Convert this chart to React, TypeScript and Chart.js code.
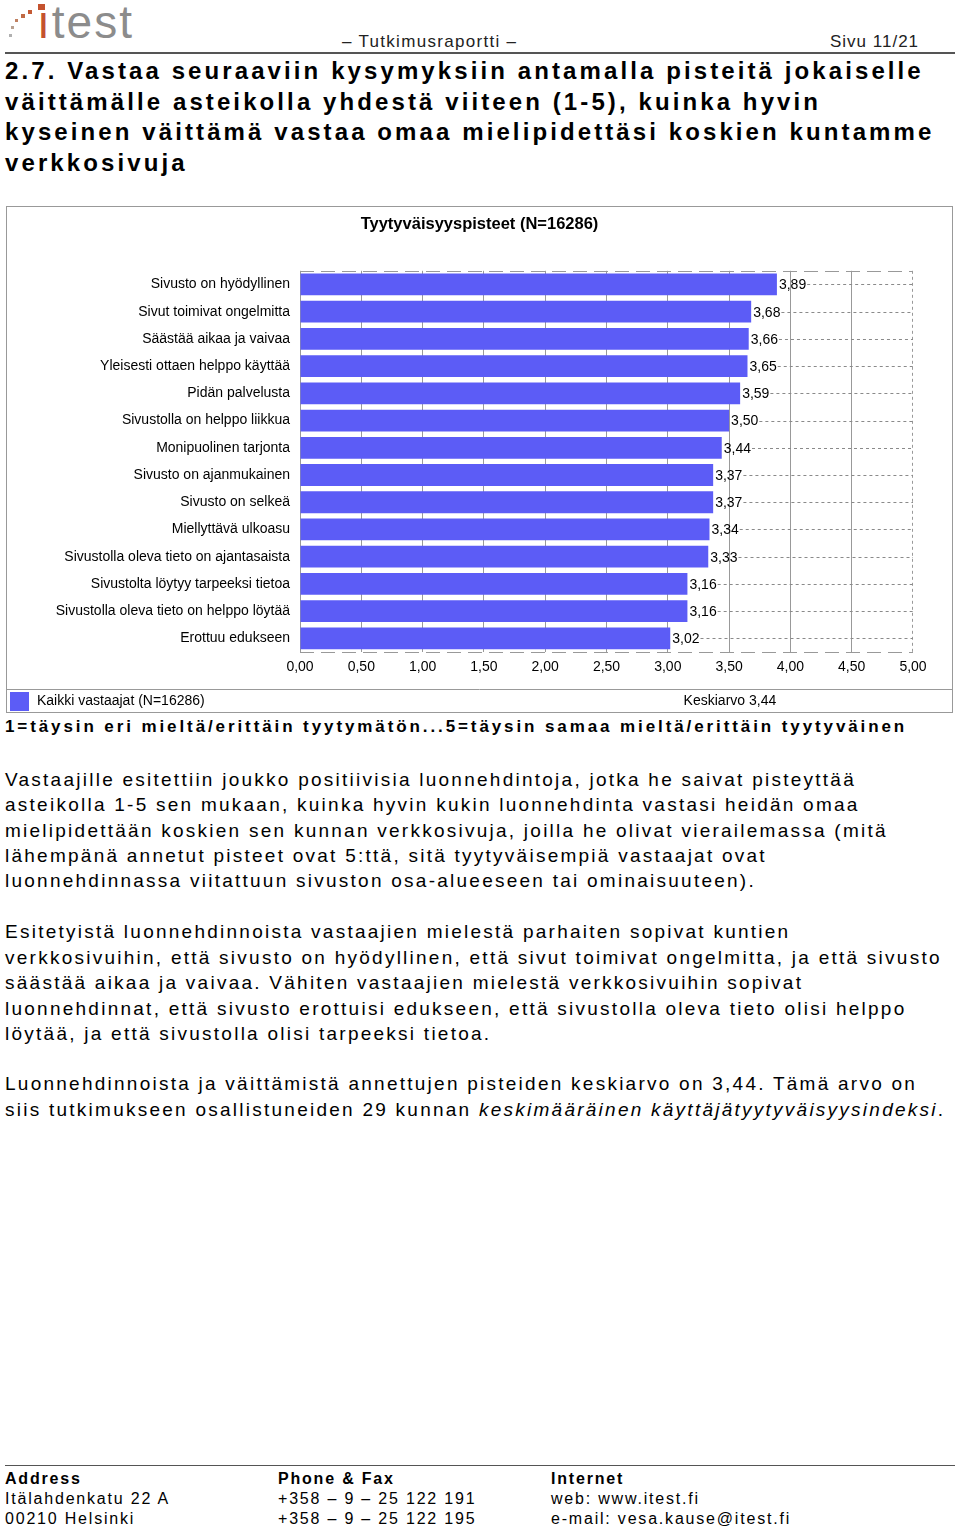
import React, { useEffect, useRef } from "react";
import { Chart, registerables } from "chart.js";

Chart.register(...registerables);

// ---------- data ----------
const CHART_TITLE = "Tyytyväisyyspisteet (N=16286)";
const CATEGORIES = [
  "Sivusto on hyödyllinen",
  "Sivut toimivat ongelmitta",
  "Säästää aikaa ja vaivaa",
  "Yleisesti ottaen helppo käyttää",
  "Pidän palvelusta",
  "Sivustolla on helppo liikkua",
  "Monipuolinen tarjonta",
  "Sivusto on ajanmukainen",
  "Sivusto on selkeä",
  "Miellyttävä ulkoasu",
  "Sivustolla oleva tieto on ajantasaista",
  "Sivustolta löytyy tarpeeksi tietoa",
  "Sivustolla oleva tieto on helppo löytää",
  "Erottuu edukseen",
];
const SCORES = [3.89, 3.68, 3.66, 3.65, 3.59, 3.5, 3.44, 3.37, 3.37, 3.34, 3.33, 3.16, 3.16, 3.02];
const SERIES_LABEL = "Kaikki vastaajat (N=16286)";
const AVERAGE_LABEL = "Keskiarvo 3,44";
const X_MIN = 0;
const X_MAX = 5;
const X_STEP = 0.5;

// ---------- styles ----------
const FONT = "'Liberation Sans', Arial, sans-serif";
const BAR_COLOR = "#5c5cf6";
const GRID_COLOR = "#999999";

const fmt = (v: number) => v.toFixed(2).replace(".", ",");

const decorPlugin = {
  id: "decor",
  beforeDatasetsDraw(chart: any) {
    const { ctx, chartArea: a, scales } = chart;
    ctx.save();
    ctx.strokeStyle = GRID_COLOR;
    ctx.lineWidth = 1;
    ctx.setLineDash([14, 7]);
    [a.top, a.bottom].forEach((yy: number) => {
      const y = Math.round(yy) + 0.5;
      ctx.beginPath();
      ctx.moveTo(a.left, y);
      ctx.lineTo(a.right, y);
      ctx.stroke();
    });
    ctx.setLineDash([3, 3]);
    const xr = Math.round(scales.x.getPixelForValue(X_MAX)) - 0.5;
    ctx.beginPath();
    ctx.moveTo(xr, a.top);
    ctx.lineTo(xr, a.bottom);
    ctx.stroke();
    ctx.restore();
  },
  afterDatasetsDraw(chart: any) {
    const { ctx, chartArea: a } = chart;
    const meta = chart.getDatasetMeta(0);
    const data = chart.data.datasets[0].data;
    ctx.save();
    ctx.font = `14px ${FONT}`;
    ctx.textBaseline = "middle";
    ctx.textAlign = "left";
    meta.data.forEach((bar: any, i: number) => {
      const txt = fmt(Number(data[i]));
      const tx = bar.x + 2;
      const w = ctx.measureText(txt).width;
      const y = Math.round(bar.y) + 0.5;
      ctx.strokeStyle = "#8a8a8a";
      ctx.lineWidth = 1;
      ctx.setLineDash([3, 3]);
      ctx.beginPath();
      ctx.moveTo(tx + w + 1, y);
      ctx.lineTo(a.right, y);
      ctx.stroke();
      ctx.fillStyle = "#000";
      ctx.fillText(txt, tx, bar.y + 1);
    });
    ctx.restore();
  },
  afterDraw(chart: any) {
    const { ctx, width, height } = chart;
    const ds = chart.data.datasets[0];
    const sepY = height - 23;
    ctx.save();
    ctx.strokeStyle = GRID_COLOR;
    ctx.lineWidth = 1;
    ctx.setLineDash([]);
    ctx.beginPath();
    ctx.moveTo(0, sepY + 0.5);
    ctx.lineTo(width, sepY + 0.5);
    ctx.stroke();
    ctx.fillStyle = ds.backgroundColor;
    ctx.fillRect(3, sepY + 3, 19, 19);
    ctx.fillStyle = "#000";
    ctx.font = `14px ${FONT}`;
    ctx.textBaseline = "middle";
    ctx.textAlign = "left";
    ctx.fillText(ds.label, 30, sepY + 12);
    ctx.textAlign = "center";
    ctx.fillText(AVERAGE_LABEL, width * 0.765, sepY + 12);
    ctx.restore();
  },
};

function BarChart() {
  const ref = useRef<HTMLCanvasElement | null>(null);
  useEffect(() => {
    if (!ref.current) return;
    const chart = new Chart(ref.current, {
      type: "bar",
      data: {
        labels: CATEGORIES,
        datasets: [
          {
            label: SERIES_LABEL,
            data: SCORES,
            backgroundColor: BAR_COLOR,
            borderWidth: 0,
            barPercentage: 0.8,
            categoryPercentage: 1,
          },
        ],
      },
      options: {
        indexAxis: "y",
        animation: false,
        responsive: false,
        devicePixelRatio: 1,
        layout: { padding: { left: 0, right: 0, top: 0, bottom: 23 } },
        plugins: {
          legend: { display: false },
          tooltip: { enabled: false },
          title: {
            display: true,
            text: CHART_TITLE,
            color: "#000",
            font: { family: FONT, size: 16.5, weight: "bold" },
            padding: { top: 8, bottom: 36 },
          },
        },
        scales: {
          x: {
            min: X_MIN,
            max: X_MAX,
            ticks: {
              stepSize: X_STEP,
              autoSkip: false,
              maxRotation: 0,
              color: "#000",
              padding: 7,
              font: { family: FONT, size: 14 },
              callback: (v: any) => fmt(Number(v)),
            },
            grid: {
              drawTicks: false,
              color: (c: any) => (c.tick && c.tick.value === X_MAX ? "rgba(0,0,0,0)" : GRID_COLOR),
              lineWidth: 1,
            },
            border: { display: false },
            afterFit: (s: any) => {
              s.height = 37;
            },
          },
          y: {
            ticks: {
              color: "#000",
              padding: 10,
              autoSkip: false,
              font: { family: FONT, size: 14 },
            },
            grid: { display: false, drawTicks: false },
            border: { display: false },
            afterFit: (s: any) => {
              s.width = 293;
            },
          },
          gutter: {
            type: "linear",
            position: "right",
            display: true,
            ticks: { display: false },
            grid: { display: false, drawTicks: false },
            border: { display: false },
            afterFit: (s: any) => {
              s.width = 39;
            },
          },
        },
      } as any,
      plugins: [decorPlugin as any],
    });
    return () => chart.destroy();
  }, []);
  return <canvas ref={ref} width={945} height={505} style={{ display: "block" }} />;
}

const HEADING_LINES = [
  "2.7. Vastaa seuraaviin kysymyksiin antamalla pisteitä jokaiselle",
  "väittämälle asteikolla yhdestä viiteen (1-5), kuinka hyvin",
  "kyseinen väittämä vastaa omaa mielipidettäsi koskien kuntamme",
  "verkkosivuja",
];

const P1 = [
  "Vastaajille esitettiin joukko positiivisia luonnehdintoja, jotka he saivat pisteyttää",
  "asteikolla 1-5 sen mukaan, kuinka hyvin kukin luonnehdinta vastasi heidän omaa",
  "mielipidettään koskien sen kunnan verkkosivuja, joilla he olivat vierailemassa (mitä",
  "lähempänä annetut pisteet ovat 5:ttä, sitä tyytyväisempiä vastaajat ovat",
  "luonnehdinnassa viitattuun sivuston osa-alueeseen tai ominaisuuteen).",
];
const P2 = [
  "Esitetyistä luonnehdinnoista vastaajien mielestä parhaiten sopivat kuntien",
  "verkkosivuihin, että sivusto on hyödyllinen, että sivut toimivat ongelmitta, ja että sivusto",
  "säästää aikaa ja vaivaa. Vähiten vastaajien mielestä verkkosivuihin sopivat",
  "luonnehdinnat, että sivusto erottuisi edukseen, että sivustolla oleva tieto olisi helppo",
  "löytää, ja että sivustolla olisi tarpeeksi tietoa.",
];

const abs = (left: number, top: number, extra: any = {}) => ({
  position: "absolute" as const,
  left,
  top,
  whiteSpace: "nowrap" as const,
  ...extra,
});

export default function App() {
  const bodyStyle = { fontFamily: FONT, fontSize: 19, letterSpacing: 2.25, lineHeight: "25px", color: "#000" };
  const footStyle = { fontFamily: FONT, fontSize: 16, letterSpacing: 1.8, lineHeight: "20px", color: "#000" };
  const bodyLine = (text: any, center: number, key: any) => (
    <div key={key} style={abs(5, center - 13, bodyStyle)}>
      {text}
    </div>
  );
  const dots = [
    { x: 9, y: 34, s: 3, c: "#b0b0b0" },
    { x: 11, y: 26, s: 3, c: "#b8a090" },
    { x: 15, y: 19, s: 3, c: "#c08060" },
    { x: 21, y: 14, s: 4, c: "#c06a45" },
    { x: 28, y: 10, s: 4, c: "#c45a35" },
  ];
  return (
    <div style={{ position: "absolute", left: 0, top: 0, width: 960, height: 1532, overflow: "hidden", background: "#fff" }}>
      {/* logo */}
      {dots.map((d, i) => (
        <div key={i} style={{ position: "absolute", left: d.x, top: d.y, width: d.s, height: d.s, background: d.c }} />
      ))}
      <div style={abs(38, 4, { width: 7, height: 6, background: "#c4522e" })} />
      <div style={abs(37, -3, { fontFamily: FONT, fontSize: 46, letterSpacing: 2, color: "#8c8c8c", lineHeight: "50px" })}>
        <span style={{ color: "#c4522e" }}>ı</span>test
      </div>
      {/* header */}
      <div style={abs(342, 32, { fontFamily: FONT, fontSize: 17, letterSpacing: 1.3, lineHeight: "20px", color: "#222" })}>
        – Tutkimusraportti –
      </div>
      <div style={abs(830, 32, { fontFamily: FONT, fontSize: 17, letterSpacing: 1, lineHeight: "20px", color: "#222" })}>
        Sivu 11/21
      </div>
      <div style={abs(5, 52, { width: 950, height: 2, background: "#555" })} />
      {/* heading */}
      {HEADING_LINES.map((t, i) => (
        <div
          key={i}
          style={abs(5, 56 + i * 30.7, {
            fontFamily: FONT,
            fontSize: 24,
            fontWeight: "bold",
            letterSpacing: 3.1,
            lineHeight: "30px",
            color: "#000",
          })}
        >
          {t}
        </div>
      ))}
      {/* chart box */}
      <div style={{ position: "absolute", left: 6, top: 206, width: 945, height: 505, border: "1px solid #999" }}>
        <BarChart />
      </div>
      {/* scale explanation */}
      <div
        style={abs(5, 717, {
          fontFamily: FONT,
          fontSize: 17,
          fontWeight: "bold",
          letterSpacing: 2.9,
          lineHeight: "20px",
          color: "#000",
        })}
      >
        1=täysin eri mieltä/erittäin tyytymätön...5=täysin samaa mieltä/erittäin tyytyväinen
      </div>
      {/* paragraphs */}
      {P1.map((t, i) => bodyLine(t, 780 + i * 25.3, "a" + i))}
      {P2.map((t, i) => bodyLine(t, 932 + i * 25.5, "b" + i))}
      {bodyLine("Luonnehdinnoista ja väittämistä  annettujen pisteiden keskiarvo on 3,44. Tämä arvo on", 1084, "c0")}
      {bodyLine(
        <>
          siis tutkimukseen osallistuneiden 29 kunnan <i>keskimääräinen käyttäjätyytyväisyysindeksi</i>.
        </>,
        1110,
        "c1"
      )}
      {/* footer */}
      <div style={abs(5, 1465, { width: 950, height: 1, background: "#555" })} />
      <div style={abs(5, 1469, { ...footStyle, fontWeight: "bold" })}>Address</div>
      <div style={abs(5, 1489, footStyle)}>Itälahdenkatu 22 A</div>
      <div style={abs(5, 1509, footStyle)}>00210 Helsinki</div>
      <div style={abs(278, 1469, { ...footStyle, fontWeight: "bold" })}>Phone &amp; Fax</div>
      <div style={abs(278, 1489, footStyle)}>+358 – 9 – 25 122 191</div>
      <div style={abs(278, 1509, footStyle)}>+358 – 9 – 25 122 195</div>
      <div style={abs(551, 1469, { ...footStyle, fontWeight: "bold" })}>Internet</div>
      <div style={abs(551, 1489, footStyle)}>web: www.itest.fi</div>
      <div style={abs(551, 1509, footStyle)}>e-mail: vesa.kause@itest.fi</div>
    </div>
  );
}
